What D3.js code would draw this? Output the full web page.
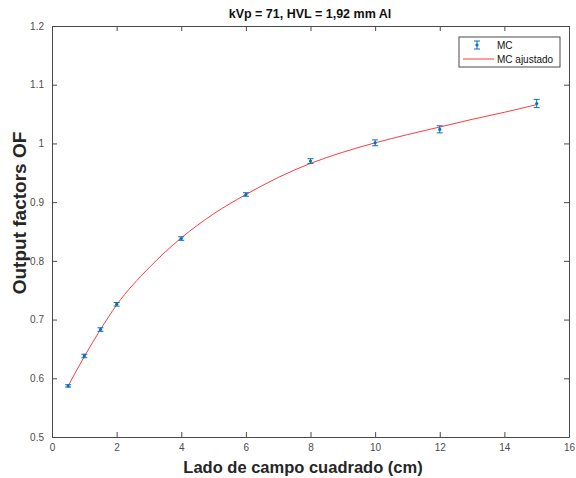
<!DOCTYPE html>
<html><head><meta charset="utf-8">
<script src="https://cdn.jsdelivr.net/npm/d3@7"></script>
<style>body{margin:0;background:#fff;} svg{display:block;font-family:"Liberation Sans",Arial,sans-serif;}</style>
</head><body>
<svg id="c" width="576" height="478"></svg>
<script>
const fieldSize = [0.5, 1, 1.5, 2, 4, 6, 8, 10, 12, 15];
const mcValues = [0.587, 0.638, 0.683, 0.726, 0.838, 0.913, 0.970, 1.001, 1.024, 1.068];
const mcErrors = [0.002, 0.003, 0.003, 0.003, 0.003, 0.003, 0.004, 0.005, 0.006, 0.007];
const fitX = [0.5, 1, 1.5, 2, 3, 4, 5, 6, 7, 8, 9, 10, 11, 12, 13, 14, 15];
const fitY = [0.587, 0.637, 0.683, 0.725, 0.788, 0.839, 0.880, 0.913, 0.942, 0.966, 0.985, 1.001, 1.015, 1.028, 1.041, 1.053, 1.066];
const xTicks = [0, 2, 4, 6, 8, 10, 12, 14, 16];
const yTicks = [0.5, 0.6, 0.7, 0.8, 0.9, 1, 1.1, 1.2];
const titleText = "kVp = 71, HVL = 1,92 mm Al";
const xLabel = "Lado de campo cuadrado (cm)";
const yLabel = "Output factors OF";
const legendLabels = ["MC", "MC ajustado"];

const svg = d3.select("#c");
const L = 52, R = 569, T = 26, B = 437;
const x = d3.scaleLinear().domain([0, 16]).range([L, R]);
const y = d3.scaleLinear().domain([0.5, 1.2]).range([B, T]);
const axisCol = "#4a4a4a", tickTextCol = "#4d4d4d";
const blue = "#0072BD", red = "#FF3B3B";

// axes
const ax = [
  {g: d3.axisBottom(x).tickValues(xTicks).tickFormat(d3.format("d")).tickSizeInner(-5).tickSizeOuter(0).tickPadding(7), t: `translate(0,${B})`},
  {g: d3.axisTop(x).tickValues(xTicks).tickFormat("").tickSizeInner(-5).tickSizeOuter(0), t: `translate(0,${T})`},
  {g: d3.axisLeft(y).tickValues(yTicks).tickFormat(d => String(d)).tickSizeInner(-5).tickSizeOuter(0).tickPadding(8), t: `translate(${L},0)`},
  {g: d3.axisRight(y).tickValues(yTicks).tickFormat("").tickSizeInner(-5).tickSizeOuter(0), t: `translate(${R},0)`}
];
ax.forEach(a => {
  const g = svg.append("g").attr("transform", a.t).call(a.g);
  g.select(".domain").attr("stroke", axisCol).attr("stroke-width", 1);
  g.selectAll(".tick line").attr("stroke", axisCol);
  g.selectAll(".tick text").attr("fill", tickTextCol).attr("font-size", 10).attr("font-family", "Liberation Sans, Arial, sans-serif");
});

// fit line
svg.append("path").datum(fitX.map((d, i) => [d, fitY[i]]))
  .attr("fill", "none").attr("stroke", red).attr("stroke-width", 1)
  .attr("d", d3.line().x(d => x(d[0])).y(d => y(d[1])).curve(d3.curveMonotoneX));

// error bars
const eb = svg.append("g").attr("stroke", blue).attr("stroke-width", 1);
fieldSize.forEach((fx, i) => {
  const cx = x(fx), y1 = y(mcValues[i] - mcErrors[i]), y2 = y(mcValues[i] + mcErrors[i]);
  eb.append("line").attr("x1", cx).attr("x2", cx).attr("y1", y1).attr("y2", y2);
  eb.append("line").attr("x1", cx - 3).attr("x2", cx + 3).attr("y1", y1).attr("y2", y1);
  eb.append("line").attr("x1", cx - 3).attr("x2", cx + 3).attr("y1", y2).attr("y2", y2);
});
svg.append("g").selectAll("circle").data(fieldSize).join("circle")
  .attr("cx", d => x(d)).attr("cy", (d, i) => y(mcValues[i])).attr("r", 1.6).attr("fill", blue);

// title & labels
svg.append("text").attr("x", 310).attr("y", 18).attr("text-anchor", "middle")
  .attr("font-size", 12.5).attr("font-weight", "bold").attr("fill", "#111").text(titleText);
svg.append("text").attr("x", 303).attr("y", 473).attr("text-anchor", "middle")
  .attr("font-size", 16.5).attr("font-weight", "bold").attr("fill", "#262626").text(xLabel);
svg.append("text").attr("transform", `translate(26,213) rotate(-90)`).attr("text-anchor", "middle")
  .attr("font-size", 19).attr("font-weight", "bold").attr("fill", "#262626").text(yLabel);

// legend
const lg = svg.append("g");
lg.append("rect").attr("x", 459).attr("y", 37).attr("width", 101).attr("height", 30)
  .attr("fill", "#fff").attr("stroke", axisCol).attr("stroke-width", 1);
const lx = 477, ly1 = 45, ly2 = 59;
lg.append("line").attr("x1", lx).attr("x2", lx).attr("y1", ly1 - 4).attr("y2", ly1 + 4).attr("stroke", blue);
lg.append("line").attr("x1", lx - 3).attr("x2", lx + 3).attr("y1", ly1 - 4).attr("y2", ly1 - 4).attr("stroke", blue);
lg.append("line").attr("x1", lx - 3).attr("x2", lx + 3).attr("y1", ly1 + 4).attr("y2", ly1 + 4).attr("stroke", blue);
lg.append("circle").attr("cx", lx).attr("cy", ly1).attr("r", 1.6).attr("fill", blue);
lg.append("line").attr("x1", 463).attr("x2", 494).attr("y1", ly2).attr("y2", ly2).attr("stroke", red);
lg.append("text").attr("x", 497).attr("y", ly1 + 3.5).attr("font-size", 10).attr("fill", "#111").text(legendLabels[0]);
lg.append("text").attr("x", 497).attr("y", ly2 + 3.5).attr("font-size", 10).attr("fill", "#111").text(legendLabels[1]);
</script>
</body></html>
